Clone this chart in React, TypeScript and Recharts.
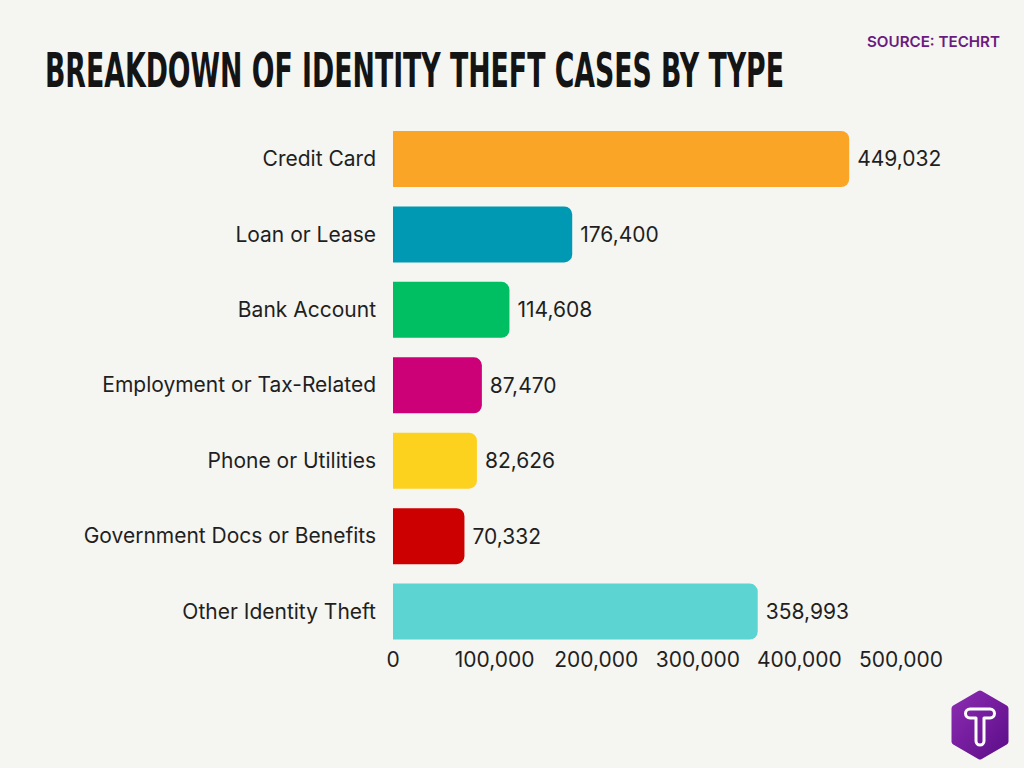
import { BarChart, Bar, XAxis, YAxis, Cell, LabelList } from 'recharts';

// Identity theft cases by type (source: TechRT)
const categories = [
  'Credit Card',
  'Loan or Lease',
  'Bank Account',
  'Employment or Tax-Related',
  'Phone or Utilities',
  'Government Docs or Benefits',
  'Other Identity Theft',
];
const cases = [449032, 176400, 114608, 87470, 82626, 70332, 358993];
const barColors = ['#FBA526', '#0099B4', '#00BF63', '#CC0077', '#FDD21F', '#CC0000', '#5CD5D2'];
const xTicks = [0, 100000, 200000, 300000, 400000, 500000];

const data = categories.map((name, i) => ({ name, value: cases[i] }));

const fmt = (v: number) => Number(v).toLocaleString('en-US');
const textColor = '#1f1f1f';
const font = 'Inter, "Open Sans", sans-serif';

const Logo = () => (
  <svg width={64} height={72} viewBox="0 0 64 72" style={{ position: 'absolute', left: 948, top: 689 }}>
    <defs>
      <linearGradient id="logoGrad" x1="0" y1="0" x2="1" y2="1">
        <stop offset="0%" stopColor="#8A2BB0" />
        <stop offset="100%" stopColor="#5E0E8A" />
      </linearGradient>
    </defs>
    <path d="M32 5 L57 19.5 L57 52.5 L32 67 L7 52.5 L7 19.5 Z" fill="url(#logoGrad)" stroke="url(#logoGrad)" strokeWidth={7} strokeLinejoin="round" />
    <path
      d="M22 20 H42 A4.5 4.5 0 0 1 42 29 H36 V52 A4 4 0 0 1 28 52 V29 H22 A4.5 4.5 0 0 1 22 20 Z"
      fill="none"
      stroke="#ffffff"
      strokeWidth={3}
      strokeLinejoin="round"
    />
  </svg>
);

export default function App() {
  return (
    <div style={{ position: 'relative', width: 1024, height: 768, background: '#F5F5F1', overflow: 'hidden' }}>
      <style>{`body{margin:0}`}</style>
      <svg width={1024} height={120} style={{ position: 'absolute', left: 0, top: 0 }}>
        <text
          transform="scale(1, 1.6)"
          x={45}
          y={54.4}
          textLength={739}
          lengthAdjust="spacingAndGlyphs"
          fontFamily='"Liberation Sans Narrow", "DejaVu Sans Condensed", sans-serif'
          fontWeight={700}
          fontSize={30}
          fill="#141414"
        >
          BREAKDOWN OF IDENTITY THEFT CASES BY TYPE
        </text>
        <text
          x={867}
          y={47}
          textLength={133}
          lengthAdjust="spacingAndGlyphs"
          fontFamily={font}
          fontWeight={600}
          fontSize={15}
          fill="#6A1B80"
        >
          SOURCE: TECHRT
        </text>
      </svg>
      <BarChart
        width={1024}
        height={768}
        data={data}
        layout="vertical"
        margin={{ top: 121, right: 123, bottom: 89, left: 0 }}
      >
        <XAxis
          type="number"
          domain={[0, 500000]}
          ticks={xTicks}
          tickFormatter={fmt}
          axisLine={false}
          tickLine={false}
          tickSize={0}
          tickMargin={3}
          height={30}
          tick={{ fill: textColor, fontSize: 21, fontFamily: font }}
          interval={0}
        />
        <YAxis
          type="category"
          dataKey="name"
          width={393}
          axisLine={false}
          tickLine={false}
          tickSize={0}
          tickMargin={17}
          tick={{ fill: textColor, fontSize: 21, fontFamily: font }}
          interval={0}
        />
        <Bar dataKey="value" barSize={56} radius={[0, 8, 8, 0]} isAnimationActive={false}>
          {data.map((d, i) => (
            <Cell key={d.name} fill={barColors[i]} />
          ))}
          <LabelList
            dataKey="value"
            position="right"
            offset={8}
            formatter={fmt}
            fill={textColor}
            fontSize={21}
            fontFamily={font}
          />
        </Bar>
      </BarChart>
      <Logo />
    </div>
  );
}
